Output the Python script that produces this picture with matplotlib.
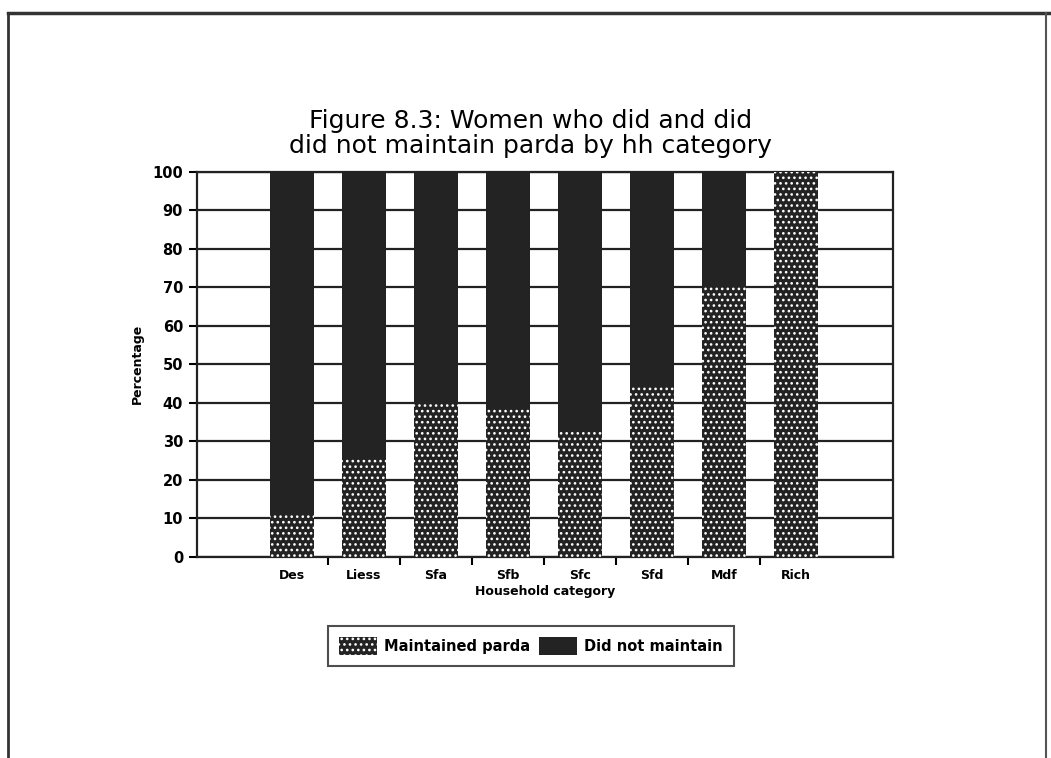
import numpy as np
import matplotlib.pyplot as plt
from matplotlib.lines import Line2D
from matplotlib.patches import Patch

categories = ['Des', 'Liess', 'Sfa', 'Sfb', 'Sfc', 'Sfd', 'Mdf', 'Rich']
maintained = [11, 26, 40, 38.5, 33, 44.5, 70, 100]
not_maintained = [100 - v for v in maintained]

dark = '#232323'
plt.rcParams['hatch.linewidth'] = 1.1

fig = plt.figure(figsize=(10.51, 7.58), dpi=100)
ax = fig.add_axes([0.1874, 0.2652, 0.6623, 0.5085])

x = np.arange(len(categories))
w = 0.61
ax.bar(x, maintained, w, color=dark, edgecolor='white', linewidth=0,
       hatch='...', zorder=3)
ax.bar(x, not_maintained, w, bottom=maintained, color=dark, linewidth=0,
       zorder=3)

ax.set_xlim(-1.32, 8.35)
ax.set_ylim(0, 100)
ax.set_yticks(range(0, 101, 10))
ax.yaxis.grid(True, color='#222222', linewidth=1.6, zorder=1)
ax.set_axisbelow(True)

# category ticks sit between the bars, labels under the bars
ax.set_xticks(x[:-1] + 0.5)
ax.set_xticklabels([])
ax.set_xticks(x, minor=True)
ax.set_xticklabels(categories, minor=True, fontsize=9, fontweight='bold')
ax.tick_params(axis='x', which='minor', length=0, pad=9)
ax.tick_params(axis='x', which='major', length=6, width=1.5, direction='out')
ax.tick_params(axis='y', length=6, width=1.5, labelsize=10.5, pad=4)
for lbl in ax.get_yticklabels():
    lbl.set_fontweight('bold')

for side in ['left', 'bottom', 'right', 'top']:
    ax.spines[side].set_linewidth(1.6)
    ax.spines[side].set_color('#222222')

ax.set_ylabel('Percentage', fontsize=9, fontweight='bold', labelpad=6)
ax.set_xlabel('Household category', fontsize=9, fontweight='bold', labelpad=2)

fig.text(0.505, 0.792, 'Figure 8.3: Women who did and did\n'
         'did not maintain parda by hh category',
         ha='center', va='bottom', fontsize=18, linespacing=1.02)

handles = [Patch(facecolor=dark, edgecolor='white', linewidth=0, hatch='...'),
           Patch(facecolor=dark, linewidth=0)]
leg = fig.legend(handles, ['Maintained parda', 'Did not maintain'],
                 loc='center', bbox_to_anchor=(0.505, 0.148), ncol=2,
                 fontsize=10.5, frameon=True, fancybox=False, handlelength=2.6,
                 handleheight=1.5, columnspacing=0.6, handletextpad=0.5,
                 borderpad=0.75)
leg.get_frame().set_edgecolor('#222222')
leg.get_frame().set_linewidth(1.5)
for t in leg.get_texts():
    t.set_fontweight('bold')

# page border
fig.add_artist(Line2D([0.008, 1.0], [0.983, 0.983], color='#333333', lw=2.5,
                      transform=fig.transFigure))
fig.add_artist(Line2D([0.008, 0.008], [0.0, 0.983], color='#333333', lw=2,
                      transform=fig.transFigure))
fig.add_artist(Line2D([0.995, 0.995], [0.0, 0.983], color='#555555', lw=1.5,
                      transform=fig.transFigure))

fig.savefig('out.png', dpi=100)
